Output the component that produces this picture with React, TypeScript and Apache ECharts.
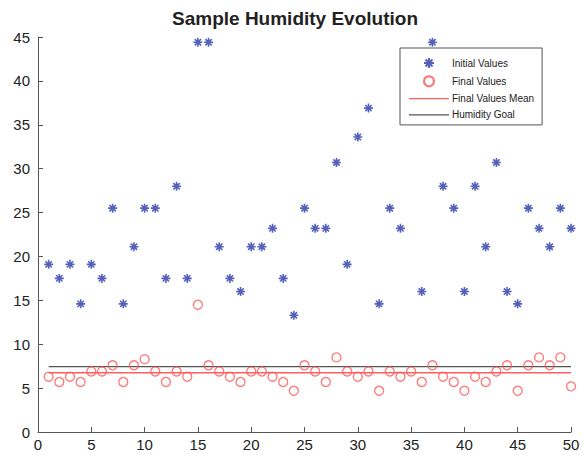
import React, { useEffect, useRef } from "react";
import * as echarts from "echarts";

const samples: number[] = Array.from({ length: 50 }, (_, i) => i + 1);

const initialValues: (number | null)[] = [
  19.1, 17.5, 19.1, 14.6, 19.1, 17.5, 25.5, 14.6, 21.1, 25.5,
  25.5, 17.5, 28.0, 17.5, 44.4, 44.4, 21.1, 17.5, 16.0, 21.1,
  21.1, 23.2, 17.5, 13.3, 25.5, 23.2, 23.2, 30.7, 19.1, 33.6,
  36.9, 14.6, 25.5, 23.2, 41.0, 16.0, 44.4, 28.0, 25.5, 16.0,
  28.0, 21.1, 30.7, 16.0, 14.6, 25.5, 23.2, 21.1, 25.5, 23.2,
];

const finalValues: number[] = [
  6.3, 5.7, 6.3, 5.7, 6.9, 6.9, 7.6, 5.7, 7.6, 8.3,
  6.9, 5.7, 6.9, 6.3, 14.5, 7.6, 6.9, 6.3, 5.7, 6.9,
  6.9, 6.3, 5.7, 4.7, 7.6, 6.9, 5.7, 8.5, 6.9, 6.3,
  6.9, 4.7, 6.9, 6.3, 6.9, 5.7, 7.6, 6.3, 5.7, 4.7,
  6.3, 5.7, 6.9, 7.6, 4.7, 7.6, 8.5, 7.6, 8.5, 5.2,
];

const finalMean = 6.75;
const humidityGoal = 7.45;
const xTicks = { min: 0, max: 50, interval: 5 };
const yTicks = { min: 0, max: 45, interval: 5 };

const STAR = "path://M0,-10L0,10M-10,0L10,0M-7,-7L7,7M-7,7L7,-7";
const LINE_ICON = "path://M0,0L40,0L40,1.3L0,1.3Z";

export default function App() {
  const ref = useRef<HTMLDivElement>(null);
  useEffect(() => {
    if (!ref.current) return;
    const chart = echarts.init(ref.current, undefined, { renderer: "svg" });
    const first = samples[0];
    const last = samples[samples.length - 1];
    chart.setOption({
      animation: false,
      backgroundColor: "#ffffff",
      textStyle: { fontFamily: "Liberation Sans, Arial, sans-serif" },
      title: {
        text: "Sample Humidity Evolution",
        left: 290,
        textAlign: "center",
        top: 4,
        itemGap: 0,
        textStyle: { fontSize: 19, fontWeight: "bold", color: "#222" },
      },
      grid: { left: 38, right: 13, top: 37, bottom: 26, containLabel: false },
      legend: {
        orient: "vertical",
        left: 400,
        top: 48,
        padding: [9, 8, 5, 9],
        itemWidth: 40,
        itemHeight: 10,
        itemGap: 6.3,
        backgroundColor: "#ffffff",
        borderColor: "#555",
        borderWidth: 1,
        borderRadius: 0,
        textStyle: { fontSize: 10, color: "#222", padding: [0, 0, 0, -2] },
        data: [
          { name: "Initial Values" },
          { name: "Final Values" },
          { name: "Final Values Mean", icon: LINE_ICON },
          { name: "Humidity Goal", icon: LINE_ICON },
        ],
      },
      xAxis: {
        type: "value",
        min: xTicks.min,
        max: xTicks.max,
        interval: xTicks.interval,
        axisLine: { lineStyle: { color: "#555", width: 1 } },
        axisTick: { inside: true, length: 5, lineStyle: { color: "#555" } },
        axisLabel: { fontSize: 15, color: "#222", margin: 5 },
        splitLine: { show: false },
      },
      yAxis: {
        type: "value",
        min: yTicks.min,
        max: yTicks.max,
        interval: yTicks.interval,
        axisLine: { show: true, lineStyle: { color: "#555", width: 1 } },
        axisTick: { show: true, inside: true, length: 5, lineStyle: { color: "#555" } },
        axisLabel: { fontSize: 15, color: "#222", margin: 8 },
        splitLine: { show: false },
      },
      series: [
        {
          name: "Initial Values",
          type: "scatter",
          symbol: STAR,
          symbolSize: 9,
          itemStyle: { color: "#2a3aa8", borderColor: "#2a3aa8", borderWidth: 1.6 },
          data: samples.map((x, i) => [x, initialValues[i]]),
          z: 2,
        },
        {
          name: "Final Values",
          type: "scatter",
          symbol: "circle",
          symbolSize: 9,
          itemStyle: { color: "transparent", borderColor: "#ff5555", borderWidth: 1.3 },
          data: samples.map((x, i) => [x, finalValues[i]]),
          z: 2,
        },
        {
          name: "Final Values Mean",
          type: "line",
          symbol: "none",
          lineStyle: { color: "#ff5f5f", width: 1.3 },
          itemStyle: { color: "#ff5f5f" },
          data: [[first, finalMean], [last, finalMean]],
          z: 1,
        },
        {
          name: "Humidity Goal",
          type: "line",
          symbol: "none",
          lineStyle: { color: "#555555", width: 1.3 },
          itemStyle: { color: "#555555" },
          data: [[first, humidityGoal], [last, humidityGoal]],
          z: 1,
        },
      ],
    });
    return () => chart.dispose();
  }, []);
  return <div ref={ref} style={{ width: 584, height: 458, position: "absolute", left: 0, top: 0 }} />;
}
